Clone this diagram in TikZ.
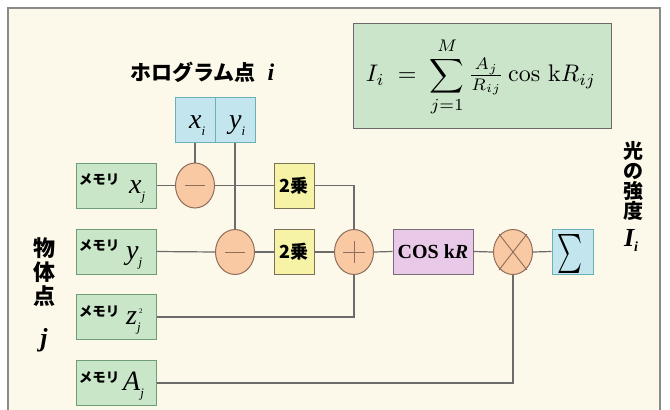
\RequirePackage{fix-cm}
\documentclass[tikz,border=0pt]{standalone}
\usepackage{fontspec}
\newfontfamily\jp{Noto Sans CJK JP}
\newfontfamily\tms{Liberation Serif}
\usetikzlibrary{shapes.geometric}
\definecolor{cream}{HTML}{FDF9EA}
\definecolor{frame}{HTML}{8A8A8A}
\definecolor{wirecol}{HTML}{6B6B6B}
\definecolor{memfill}{HTML}{C9E6C9}
\definecolor{memdraw}{HTML}{6E9E78}
\definecolor{bluefill}{HTML}{C3E6EE}
\definecolor{bluedraw}{HTML}{6AB0B8}
\definecolor{yelfill}{HTML}{F6F2A6}
\definecolor{yeldraw}{HTML}{7A7058}
\definecolor{purfill}{HTML}{E8CAE8}
\definecolor{purdraw}{HTML}{7A6A7A}
\definecolor{opfill}{HTML}{F9C9A3}
\definecolor{opdraw}{HTML}{8E6E5A}
\definecolor{fmlfill}{HTML}{CBE5CB}
\newcommand\myvar[2]{{\tms\itshape\fontsize{28}{30}\selectfont #1\raisebox{-7pt}{\fontsize{13}{13}\selectfont #2}}}
\begin{document}
\begin{tikzpicture}[x=1pt,y=-1pt,
  wire/.style={draw=wirecol,line width=1.2pt},
  membox/.style={draw=memdraw,fill=memfill,line width=1pt,minimum width=80pt,minimum height=45pt,inner sep=0pt},
  bluebox/.style={draw=bluedraw,fill=bluefill,line width=1pt,minimum width=40pt,minimum height=45pt,inner sep=0pt},
  sqbox/.style={draw=yeldraw,fill=yelfill,line width=1pt,minimum width=40pt,minimum height=45pt,inner sep=0pt,font=\jp\bfseries\fontsize{18}{20}\selectfont},
  opnode/.style={ellipse,draw=opdraw,fill=opfill,line width=1pt,minimum width=39pt,minimum height=45pt,inner sep=0pt},
  opsym/.style={draw=opdraw,line width=0.9pt},
  memtxt/.style={font=\jp\bfseries\fontsize{13.5}{16}\selectfont,inner sep=0pt},
  vartxt/.style={inner sep=0pt,anchor=base west},
  jptitle/.style={font=\jp\bfseries\fontsize{21}{24}\selectfont,inner sep=0pt}
]
\useasboundingbox (0,0) rectangle (670,410);
\fill[white] (0,0) rectangle (670,410);
\filldraw[fill=cream,draw=frame,line width=1.5pt] (8,8) -- (660,8) -- (660,420) -- (8,420) -- cycle;

% formula
\node[draw=wirecol,fill=fmlfill,line width=1pt,minimum width=258pt,minimum height=105pt] (fml) at (482,75.5) {};
\node[inner sep=0pt] (fmltxt) at (481,77) {\scalebox{2.4}{$\displaystyle I_i\;=\;\sum_{j=1}^{M}{\textstyle\frac{A_j}{R_{ij}}}\cos\,\mathrm{k}R_{ij}$}};

% title
\node[jptitle,anchor=west] (title) at (130,72) {ホログラム点\hspace{12pt}{\tms\bfseries\itshape\fontsize{24}{24}\selectfont i}};

% hologram point boxes
\node[bluebox] (xi) at (195,119.5) {};
\node[bluebox] (yi) at (235,119.5) {};
\node[vartxt] (xit) at (189,128) {\myvar{x}{i}};
\node[vartxt] (yit) at (229,128) {\myvar{y}{i}};

% memory boxes
\node[membox] (mx) at (116,185.5) {};
\node[membox] (my) at (116,251.5) {};
\node[membox] (mz) at (116,317) {};
\node[membox] (ma) at (116,383) {};
\node[memtxt] (mxl) at (99,180) {メモリ};
\node[memtxt] (myl) at (99,246) {メモリ};
\node[memtxt] (mzl) at (99,311.5) {メモリ};
\node[memtxt] (mal) at (99,377.5) {メモリ};
\node[vartxt] (mxv) at (129,193) {\myvar{x}{j}};
\node[vartxt] (myv) at (126,259) {\myvar{y}{j}};
\node[vartxt] (mzv) at (126,324.5) {{\tms\itshape\fontsize{28}{30}\selectfont z\rlap{\raisebox{11pt}{\upshape\fontsize{7}{7}\selectfont\hspace{2pt}2}}\raisebox{-7pt}{\fontsize{13}{13}\selectfont j}}};
\node[vartxt] (mav) at (123,390.5) {\myvar{A}{j}};

% operators
\node[opnode] (m1) at (195,185.5) {};
\node[opnode] (m2) at (235,252) {};
\node[opnode] (pl) at (354,252) {};
\node[opnode] (tm) at (513,252) {};
\draw[opsym] ([xshift=-10pt]m1.center) -- ([xshift=10pt]m1.center);
\draw[opsym] ([xshift=-10pt]m2.center) -- ([xshift=10pt]m2.center);
\draw[opsym] ([xshift=-11pt]pl.center) -- ([xshift=11pt]pl.center);
\draw[opsym] ([yshift=-11pt]pl.center) -- ([yshift=11pt]pl.center);
\draw[opsym] ([shift={(-14pt,-18pt)}]tm.center) -- ([shift={(14pt,18pt)}]tm.center);
\draw[opsym] ([shift={(-14pt,18pt)}]tm.center) -- ([shift={(14pt,-18pt)}]tm.center);

% squares
\node[sqbox] (sq1) at (294,185.5) {2乗};
\node[sqbox] (sq2) at (294,252) {2乗};

% cos and sum
\node[draw=purdraw,fill=purfill,line width=1pt,minimum width=80pt,minimum height=45pt,inner sep=0pt,font=\tms\bfseries\fontsize{20}{22}\selectfont] (cos) at (433,251.5) {COS k\textit{R}};
\node[bluebox,minimum width=41pt] (sig) at (572.5,251.5) {};
\node[inner sep=0pt] (sigt) at (570,254) {\resizebox*{25pt}{39pt}{$\sum$}};

% wires
\draw[wire] (mx.east) -- (m1.west);
\draw[wire] (m1.east) -- (sq1.west);
\draw[wire] (xi.south) -- (m1.north);
\draw[wire] (yi.south) -- (m2.north);
\draw[wire] (my.east) -- (m2.west);
\draw[wire] (m2.east) -- (sq2.west);
\draw[wire] (sq2.east) -- (pl.west);
\draw[wire] (sq1.east) -| (pl.north);
\draw[wire] (mz.east) -| (pl.south);
\draw[wire] (pl.east) -- (cos.west);
\draw[wire] (cos.east) -- (tm.west);
\draw[wire] (tm.east) -- (sig.west);
\draw[wire] (ma.east) -| (tm.south);

% side labels
\node[jptitle,align=center,font=\jp\bfseries\fontsize{20}{20}\selectfont] (light) at (633,181) {光\\の\\強\\度};
\node[inner sep=0pt,font=\tms\bfseries\itshape\fontsize{26}{28}\selectfont] (Ii) at (631,240) {I\raisebox{-5pt}{\fontsize{14}{14}\selectfont i}};
\node[jptitle,align=center,font=\jp\bfseries\fontsize{22}{24}\selectfont] (obj) at (44,272) {物\\体\\点};
\node[inner sep=0pt,font=\tms\bfseries\itshape\fontsize{26}{28}\selectfont] (objj) at (44,340) {j};
\end{tikzpicture}
\end{document}
